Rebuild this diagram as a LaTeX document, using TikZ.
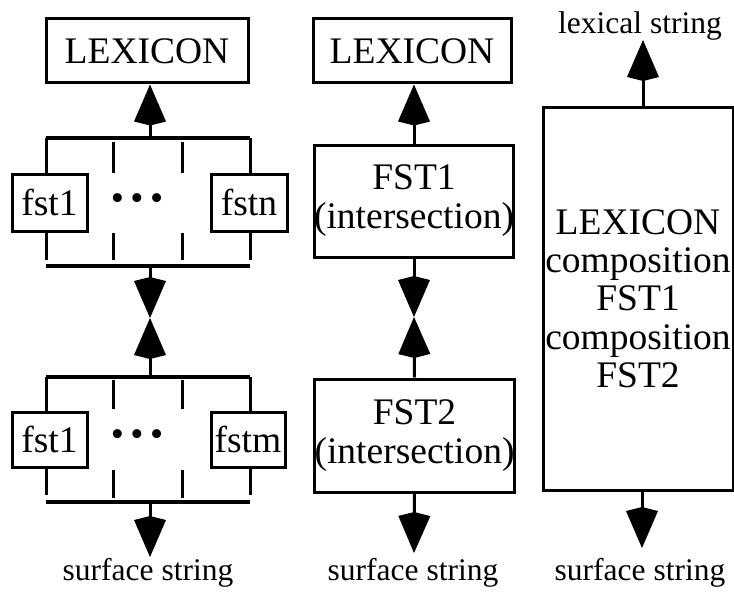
\documentclass[tikz,border=0pt]{standalone}
\usepackage{fontspec}
\setmainfont{Liberation Serif}
\usetikzlibrary{arrows.meta}
\begin{document}
\begin{tikzpicture}[x=1pt,y=-1pt,
  box/.style={draw,line width=3pt,inner sep=0pt,align=center,font=\fontsize{37.5}{39}\selectfont},
  bar/.style={line width=3.2pt},
  wire/.style={line width=3pt},
  arr/.style={line width=3pt,-{Kite[length=41pt,width=32pt,inset=4pt]}},
  lbl/.style={inner sep=0pt,anchor=base,font=\fontsize{31.5}{33}\selectfont},
  dots/.style={inner sep=0pt,font=\fontsize{37.5}{39}\selectfont}]
\useasboundingbox (0,0) rectangle (734,594);

% ---------- left column ----------
\node[box,minimum width=202pt,minimum height=64pt] (lexA) at (147,51) {LEXICON};

% upper parallel group
\coordinate (ua) at (46,138);
\coordinate (ub) at (250,138);
\coordinate (uc) at (150,138);
\coordinate (la) at (46,266);
\coordinate (lb) at (250,266);
\coordinate (lc) at (150,266);
\node[box,minimum width=75pt,minimum height=57pt] (f1a) at (49.5,202.5) {fst1};
\node[box,minimum width=76pt,minimum height=57pt] (fna) at (249,202.5) {fstn};
\node[dots] (dta) at (137,202) {•\hspace{6.5pt}•\hspace{6.5pt}•};
\draw[bar] (ua) -- (ub);
\draw[bar] (la) -- (lb);
\draw[wire] (ua) -- (ua |- f1a.north);
\draw[wire] (ub) -- (ub |- fna.north);
\coordinate (ua2) at (46,260);
\coordinate (ub2) at (250,260);
\draw[wire] (ua |- f1a.south) -- (ua2);
\draw[wire] (ub |- fna.south) -- (ub2);
\coordinate (d1t) at (113,142); \coordinate (d1b) at (113,173);
\coordinate (d2t) at (182,142); \coordinate (d2b) at (182,173);
\coordinate (d3t) at (113,233); \coordinate (d3b) at (113,260);
\coordinate (d4t) at (182,233); \coordinate (d4b) at (182,260);
\draw[wire] (d1t) -- (d1b);
\draw[wire] (d2t) -- (d2b);
\draw[wire] (d3t) -- (d3b);
\draw[wire] (d4t) -- (d4b);
\draw[arr] (uc) -- (uc |- lexA.south);

% meeting point
\coordinate (ma) at (150,318);

% lower parallel group
\coordinate (va) at (46,377);
\coordinate (vb) at (250,377);
\coordinate (vc) at (150,377);
\coordinate (wa) at (46,502);
\coordinate (wb) at (250,502);
\coordinate (wc) at (150,502);
\node[box,minimum width=75pt,minimum height=55pt] (f1b) at (49.5,439.5) {fst1};
\node[box,minimum width=74pt,minimum height=55pt] (fmb) at (248,439.5) {fstm};
\node[dots] (dtb) at (137,438) {•\hspace{6.5pt}•\hspace{6.5pt}•};
\draw[bar] (va) -- (vb);
\draw[bar] (wa) -- (wb);
\draw[wire] (va) -- (va |- f1b.north);
\draw[wire] (vb) -- (vb |- fmb.north);
\coordinate (va2) at (46,495);
\coordinate (vb2) at (250,495);
\draw[wire] (va |- f1b.south) -- (va2);
\draw[wire] (vb |- fmb.south) -- (vb2);
\coordinate (e1t) at (113,380); \coordinate (e1b) at (113,409);
\coordinate (e2t) at (182,380); \coordinate (e2b) at (182,409);
\coordinate (e3t) at (113,470); \coordinate (e3b) at (113,498);
\coordinate (e4t) at (182,470); \coordinate (e4b) at (182,498);
\draw[wire] (e1t) -- (e1b);
\draw[wire] (e2t) -- (e2b);
\draw[wire] (e3t) -- (e3b);
\draw[wire] (e4t) -- (e4b);

\draw[arr] (lc) -- (ma);
\draw[arr] (vc) -- (ma);

\coordinate (ea) at (150,557);
\draw[arr] (wc) -- (ea);
\node[lbl] (sa) at (148,580) {surface string};

% ---------- middle column ----------
\node[box,minimum width=198pt,minimum height=64pt] (lexB) at (412,51) {LEXICON};
\node[box,minimum width=198pt,minimum height=112pt] (fstA) at (414,201) {FST1\\(intersection)};
\node[box,minimum width=197pt,minimum height=113pt] (fstB) at (414.5,435.5) {FST2\\(intersection)};
\draw[arr] (fstA.north) -- (fstA.north |- lexB.south);
\coordinate (mb) at (414,317);
\draw[arr] (fstA.south) -- (mb);
\draw[arr] (fstB.north) -- (mb);
\coordinate (eb) at (414,553);
\draw[arr] (fstB.south) -- (eb);
\node[lbl] (sb) at (413,580) {surface string};

% ---------- right column ----------
\node[box,minimum width=190pt,minimum height=383pt,font=\fontsize{37.5}{38.3}\selectfont] (big) at (638,298.5)
  {LEXICON\\composition\\FST1\\composition\\FST2};
\node[lbl] (lx) at (640,34) {lexical string};
\coordinate (tc) at (643,40);
\draw[arr] (big.north -| tc) -- (tc);
\coordinate (ec) at (642,548);
\draw[arr] (big.south -| ec) -- (ec);
\node[lbl] (sc) at (640,580) {surface string};
\end{tikzpicture}
\end{document}
